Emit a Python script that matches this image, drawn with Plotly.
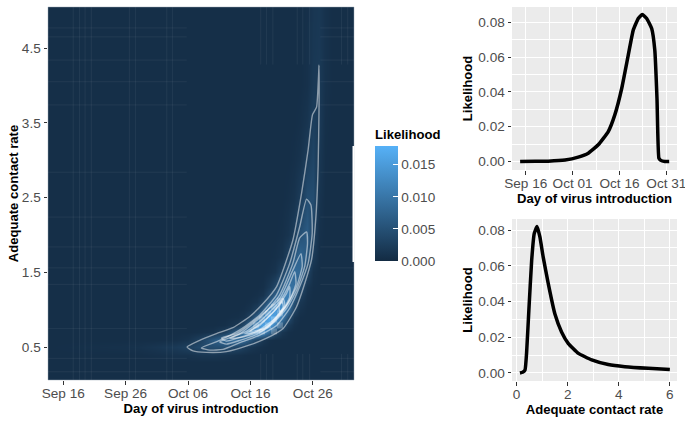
import plotly.graph_objects as go

W, H = 685, 423

# --- main panel: days are counted from Oct 06 ---
MAIN_TICK_DAYS = [-20, -10, 0, 10, 20]
MAIN_TICK_TEXT = ["Sep 16", "Sep 26", "Oct 06", "Oct 16", "Oct 26"]
RATE_TICKS = [0.5, 1.5, 2.5, 3.5, 4.5]

HEAT_X = [-23, -8, -5, -2, 0, 2, 4, 6, 8, 9, 10, 11, 12, 13, 14, 15, 16, 17, 18, 19, 20, 21, 22, 23, 27]
HEAT_Y = [0.06, 0.3, 0.4, 0.5, 0.6, 0.7, 0.8, 0.9, 1.0, 1.1, 1.2, 1.3, 1.5, 1.7, 2.0, 2.5, 3.0, 3.5, 4.0, 4.5, 5.05]
# likelihood in thousandths
HEAT_Z = [
    [.5, .5, .5, .5, .5, .5, .5, .5, .5, .5, .5, .5, .5, .5, .5, .5, .5, .5, .5, .5, .5, .5, .5, .5, .5],
    [.5, .5, .5, .5, .5, .5, .5, .5, .5, .5, .5, .5, .5, .5, .5, .5, .5, .5, .5, .5, .5, .5, .5, .5, .5],
    [.5, .5, .7, 1.0, 1.0, 1.4, 1.5, 1.2, .8, .6, .5, .5, .5, .5, .5, .5, .5, .5, .5, .5, .5, .5, .5, .5, .5],
    [.5, .9, 1.4, 2.0, 2.8, 4.0, 4.5, 4.5, 3.4, 2.4, 1.6, 1.0, .7, .5, .5, .5, .5, .5, .5, .5, .5, .5, .5, .5, .5],
    [.5, .5, .5, .7, 1.2, 3.0, 6.0, 8.5, 9.0, 8.0, 5.5, 3.2, 1.5, .7, .5, .5, .5, .5, .5, .5, .5, .5, .5, .5, .5],
    [.5, .5, .5, .5, .5, .7, 1.0, 2.5, 7.0, 10., 13., 14., 12.5, 8.5, 4.0, 1.5, .7, .5, .5, .5, .5, .5, .5, .5, .5],
    [.5, .5, .5, .5, .5, .5, .5, .7, 1.8, 4.0, 8.0, 13., 16., 15.5, 11.5, 5.5, 2.0, .8, .5, .5, .5, .5, .5, .5, .5],
    [.5, .5, .5, .5, .5, .5, .5, .5, .7, 1.2, 3.0, 7.0, 12., 17., 15.5, 10.5, 5.0, 1.5, .6, .5, .5, .5, .5, .5, .5],
    [.5, .5, .5, .5, .5, .5, .5, .5, .5, .7, 1.2, 3.0, 7.0, 12., 15., 13.5, 8.5, 3.2, 1.0, .5, .5, .5, .5, .5, .5],
    [.5, .5, .5, .5, .5, .5, .5, .5, .5, .5, .7, 1.2, 3.0, 7.0, 11., 13., 10.5, 5.0, 1.6, .7, .5, .5, .5, .5, .5],
    [.5, .5, .5, .5, .5, .5, .5, .5, .5, .5, .5, .7, 1.2, 3.5, 7.0, 10.5, 11.5, 7.5, 2.8, .9, .5, .5, .5, .5, .5],
    [.5, .5, .5, .5, .5, .5, .5, .5, .5, .5, .5, .5, .7, 1.8, 3.8, 7.0, 10., 9.0, 4.5, 1.3, .6, .5, .5, .5, .5],
    [.5, .5, .5, .5, .5, .5, .5, .5, .5, .5, .5, .5, .5, .7, 1.2, 3.2, 6.0, 9.0, 8.0, 3.5, .9, .5, .5, .5, .5],
    [.5, .5, .5, .5, .5, .5, .5, .5, .5, .5, .5, .5, .5, .5, .7, 1.2, 3.0, 6.0, 8.0, 6.0, 2.0, .6, .5, .5, .5],
    [.5, .5, .5, .5, .5, .5, .5, .5, .5, .5, .5, .5, .5, .5, .5, .7, 1.2, 2.5, 5.0, 6.5, 3.0, .8, .5, .5, .5],
    [.5, .5, .5, .5, .5, .5, .5, .5, .5, .5, .5, .5, .5, .5, .5, .5, .7, 1.1, 2.2, 4.5, 4.5, 1.2, .5, .5, .5],
    [.5, .5, .5, .5, .5, .5, .5, .5, .5, .5, .5, .5, .5, .5, .5, .5, .5, .7, 1.1, 2.5, 3.5, 1.6, .6, .5, .5],
    [.5, .5, .5, .5, .5, .5, .5, .5, .5, .5, .5, .5, .5, .5, .5, .5, .5, .5, .7, 1.3, 2.6, 2.0, .7, .5, .5],
    [.5, .5, .5, .5, .5, .5, .5, .5, .5, .5, .5, .5, .5, .5, .5, .5, .5, .5, .5, .8, 1.8, 2.0, .9, .5, .5],
    [.5, .5, .5, .5, .5, .5, .5, .5, .5, .5, .5, .5, .5, .5, .5, .5, .5, .5, .5, .8, 1.6, 1.8, 1.0, .5, .5],
    [.5, .5, .5, .5, .5, .5, .5, .5, .5, .5, .5, .5, .5, .5, .5, .5, .5, .5, .5, .7, 1.5, 1.7, 1.0, .5, .5],
]
COLOR_TICKS = [0, 5, 10, 15]
COLOR_TEXT = ["0.000", "0.005", "0.010", "0.015"]
COLOR_TOP = 17.9
PALE_X = [11.86, 13.78, 10.9, 12.82, 14.74, 11.86, 13.78, 12.82, 14.74, 13.78, 14.74]
PALE_Y = [0.71, 0.71, 0.79, 0.79, 0.79, 0.87, 0.87, 0.95, 0.95, 1.04, 1.12]

C1_X = [-0.16, 1.87, 4.55, 7.2, 9.9, 12.0, 14.2, 16.8, 18.2, 19.25, 19.95, 20.6, 21.0, 21.0, 20.85, 20.5, 19.8, 18.7, 17.4, 15.25, 12.6, 9.9, 6.15, 2.94, 0.8, -0.16]
C1_Y = [0.50, 0.59, 0.68, 0.76, 0.91, 1.08, 1.31, 1.93, 2.56, 3.14, 3.61, 3.71, 4.27, 3.72, 2.92, 2.25, 1.67, 1.35, 1.04, 0.75, 0.62, 0.53, 0.44, 0.43, 0.45, 0.50]
C2_X = [2.14, 5.08, 8.3, 11.5, 14.2, 16.3, 17.9, 19.0, 19.7, 19.9, 19.25, 17.9, 16.3, 14.2, 11.5, 8.3, 5.6, 3.5, 2.14]
C2_Y = [0.49, 0.59, 0.73, 0.93, 1.20, 1.62, 2.11, 2.48, 2.40, 2.02, 1.62, 1.31, 1.02, 0.79, 0.66, 0.56, 0.47, 0.46, 0.49]
C3_X = [5.08, 8.3, 12.0, 14.7, 16.8, 17.9, 19.0, 19.15, 18.7, 17.4, 15.8, 13.6, 11.0, 8.3, 6.15, 5.08]
C3_Y = [0.57, 0.68, 0.93, 1.20, 1.62, 1.96, 2.04, 1.89, 1.58, 1.26, 1.02, 0.82, 0.67, 0.59, 0.54, 0.57]
C4_X = [5.35, 7.75, 11.5, 14.7, 16.8, 18.1, 18.3, 17.4, 15.8, 13.6, 11.0, 8.3, 6.15, 5.35]
C4_Y = [0.62, 0.68, 0.91, 1.15, 1.53, 1.75, 1.58, 1.31, 1.06, 0.86, 0.71, 0.63, 0.58, 0.62]
C5_X = [6.7, 9.35, 12.0, 14.7, 16.3, 17.1, 17.3, 16.3, 14.7, 12.6, 9.9, 7.75, 6.7]
C5_Y = [0.62, 0.71, 0.88, 1.11, 1.35, 1.51, 1.35, 1.13, 0.93, 0.75, 0.66, 0.62, 0.62]
C6_X = [9.1, 11.5, 14.2, 15.8, 16.3, 16.3, 15.25, 13.4, 11.2, 9.1]
C6_Y = [0.68, 0.79, 1.02, 1.22, 1.31, 1.17, 1.00, 0.82, 0.71, 0.68]
C7_X = [9.9, 12.0, 14.2, 15.25, 15.5, 14.2, 12.3, 9.9]
C7_Y = [0.71, 0.84, 1.02, 1.15, 1.06, 0.91, 0.75, 0.71]
C8_X = [14.6, 15.1, 15.25, 14.7, 14.6]
C8_Y = [1.04, 1.11, 1.03, 0.97, 1.04]
CONTOURS = [(C1_X, C1_Y), (C2_X, C2_Y), (C3_X, C3_Y), (C4_X, C4_Y), (C5_X, C5_Y), (C6_X, C6_Y), (C7_X, C7_Y), (C8_X, C8_Y)]

# faint seams in the raster
SEAM_V_FULL = [-18.4, -17.4, -16.5, -15.5, -9.4, -8.4, -3.4, -2.5]
SEAM_V_PART = [11.65, 12.6, 13.6, 17.5, 18.4, 19.5, 24.6, 25.6]
SEAM_H = [4.77, 4.65, 4.34, 4.05, 3.74, 2.84, 2.24, 1.84, 1.56, 1.34, 0.75, 0.35, 0.17]

# --- top right panel ---
DAY_TICKS = [-20, -5, 10, 25]
DAY_TEXT = ["Sep 16", "Oct 01", "Oct 16", "Oct 31"]
DAY_MINOR = [-12.5, 2.5, 17.5]
DAY_X = [-21.8, -17, -12.8, -7.4, -3.2, 0.0, 3.2, 6.4, 8.5, 10.7, 12.8, 14.4, 16, 17.3, 18.7, 20.3, 21.3, 22.0, 22.6, 23.1, 24.5, 25.9]
DAY_LIK = [0, .0002, .0002, .0008, .0025, .0048, .0096, .0172, .0268, .042, .0612, .0756, .0823, .0846, .0823, .0765, .064, .036, .0019, .0008, 0, 0]

# --- bottom right panel ---
RATE_X = [.13, .235, .33, .39, .48, .59, .69, .8, .91, 1.04, 1.24, 1.5, 1.76, 2.02, 2.42, 2.94, 3.59, 4.24, 5.16, 6.0]
RATE_LIK = [0, .0004, .0017, .011, .035, .063, .078, .082, .0763, .065, .05, .033, .023, .0166, .011, .0073, .0047, .0035, .0026, .002]
RATE_AXIS_TICKS = [0, 2, 4, 6]
RATE_AXIS_MINOR = [1, 3, 5]
LIK_TICKS = [0, .02, .04, .06, .08]
LIK_TEXT = ["0.00", "0.02", "0.04", "0.06", "0.08"]
LIK_MINOR = [.01, .03, .05, .07]

FONT = "Liberation Sans, Arial, sans-serif"
TICK = dict(family=FONT, size=13.6, color="#4d4d4d")
TITLE = dict(family=FONT, size=13.1, color="black", weight="bold")

BAR_TOP, BAR_BOTTOM = 147, 261
BAR_LEFT, BAR_RIGHT = 375, 398
TITLE_ROOM = 21


def px_x(a, b):
    return [a / W, b / W]


def px_y(top, bottom):
    return [(H - bottom) / H, (H - top) / H]


fig = go.Figure()

fig.add_trace(go.Heatmap(
    x=HEAT_X, y=HEAT_Y, z=HEAT_Z, zmin=0, zmax=COLOR_TOP, zsmooth="best", xaxis="x", yaxis="y",
    hoverinfo="skip",
    colorscale=[[0, "#132B43"], [1, "#56B1F7"]],
    colorbar=dict(
        x=BAR_LEFT / W, xanchor="left", xpad=0, ypad=0, thickness=BAR_RIGHT - BAR_LEFT,
        lenmode="pixels", len=BAR_BOTTOM - BAR_TOP + TITLE_ROOM,
        y=(H - BAR_BOTTOM) / H, yanchor="bottom",
        outlinewidth=0, tickvals=COLOR_TICKS, ticktext=COLOR_TEXT,
        ticks="inside", ticklen=5, tickcolor="white", tickwidth=0.6,
        tickfont=TICK, title=dict(text="Likelihood", side="top", font=TITLE),
    ),
))
fig.add_trace(go.Scatter(
    x=PALE_X, y=PALE_Y, mode="markers", xaxis="x", yaxis="y", hoverinfo="skip", showlegend=False,
    marker=dict(symbol="square", size=6, color="rgba(255,255,255,0.22)", line_width=0),
))
for cx, cy in CONTOURS:
    fig.add_trace(go.Scatter(
        x=cx, y=cy, mode="lines", xaxis="x", yaxis="y", hoverinfo="skip", showlegend=False,
        line=dict(color="rgba(255,255,255,0.5)", width=1.4, shape="spline", smoothing=0.5),
    ))
fig.add_trace(go.Scatter(x=DAY_X, y=DAY_LIK, mode="lines", xaxis="x2", yaxis="y2", hoverinfo="skip",
                         showlegend=False, line=dict(color="black", width=3.5, shape="spline", smoothing=0.4)))
fig.add_trace(go.Scatter(x=RATE_X, y=RATE_LIK, mode="lines", xaxis="x3", yaxis="y3", hoverinfo="skip",
                         showlegend=False, line=dict(color="black", width=3.5, shape="spline", smoothing=0.4)))

SEAM = dict(color="rgba(255,255,255,0.06)", width=1)
shapes = []
for v in SEAM_V_FULL:
    shapes.append(dict(type="line", xref="x", yref="y", x0=v, x1=v, y0=0.06, y1=5.05, line=SEAM, layer="above"))
for v in SEAM_V_PART:
    shapes.append(dict(type="line", xref="x", yref="y", x0=v, x1=v, y0=4.28, y1=5.05, line=SEAM, layer="above"))
    shapes.append(dict(type="line", xref="x", yref="y", x0=v, x1=v, y0=0.06, y1=0.41, line=SEAM, layer="above"))
for h in SEAM_H:
    shapes.append(dict(type="line", xref="x", yref="y", x0=-22.44, x1=-0.2, y0=h, y1=h, line=SEAM, layer="above"))
    shapes.append(dict(type="line", xref="x", yref="y", x0=21.2, x1=26.6, y0=h, y1=h, line=SEAM, layer="above"))
# thin pale edge round the raster
shapes.append(dict(type="rect", xref="x domain", yref="y domain", x0=0, x1=1, y0=0, y1=1,
                   line=dict(color="rgba(150,165,180,0.45)", width=1), fillcolor="rgba(0,0,0,0)", layer="above"))
# white notch on the panel's right edge
shapes.append(dict(type="rect", xref="paper", yref="paper", x0=352.5 / W, x1=354.5 / W,
                   y0=(H - 262) / H, y1=(H - 146) / H, fillcolor="white", line_width=0, layer="above"))
# colour bar ticks on the left side as well
for v in COLOR_TICKS[1:]:
    py = BAR_BOTTOM - v / COLOR_TOP * (BAR_BOTTOM - BAR_TOP)
    shapes.append(dict(type="line", xref="paper", yref="paper", x0=BAR_LEFT / W, x1=(BAR_LEFT + 5) / W,
                       y0=(H - py) / H, y1=(H - py) / H, line=dict(color="white", width=0.6), layer="above"))


def axis(domain, rng, vals, text, title, standoff, minor=None, anchor=None, showgrid=True, label_shift=0):
    d = dict(domain=domain, range=rng, tickmode="array", tickvals=vals, ticktext=text,
             ticks="outside", ticklen=3.5, tickwidth=1, tickcolor="#333333", tickfont=TICK,
             ticklabeloverflow="allow", ticklabelstandoff=label_shift,
             showgrid=showgrid, gridcolor="white", gridwidth=1.1, zeroline=False, showline=False,
             title=dict(text=title, font=TITLE, standoff=standoff), anchor=anchor, automargin=False)
    if minor:
        d["minor"] = dict(tickmode="array", tickvals=minor, showgrid=True, gridcolor="white", gridwidth=0.5, ticks="")
    return d


fig.update_layout(
    width=W, height=H, autosize=False, margin=dict(l=0, r=0, t=0, b=0),
    paper_bgcolor="white", plot_bgcolor="#EBEBEB", showlegend=False, shapes=shapes,
    xaxis=axis(px_x(48, 354), [-22.44, 26.6], MAIN_TICK_DAYS, MAIN_TICK_TEXT, "Day of virus introduction", 1, anchor="y", showgrid=False, label_shift=-3),
    yaxis=axis(px_y(7, 380), [0.06, 5.05], RATE_TICKS, [f"{v:.1f}" for v in RATE_TICKS], "Adequate contact rate", 0, anchor="x", showgrid=False),
    xaxis2=axis(px_x(512, 677), [-24.4, 28.4], DAY_TICKS, DAY_TEXT, "Day of virus introduction", 0, minor=DAY_MINOR, anchor="y2", label_shift=-3),
    yaxis2=axis(px_y(7, 170), [-0.0049, 0.0889], LIK_TICKS, LIK_TEXT, "Likelihood", 2, minor=LIK_MINOR, anchor="x2"),
    xaxis3=axis(px_x(512, 677), [-0.18, 6.28], RATE_AXIS_TICKS, [str(v) for v in RATE_AXIS_TICKS], "Adequate contact rate", 1, minor=RATE_AXIS_MINOR, anchor="y3", label_shift=-3),
    yaxis3=axis(px_y(219, 381), [-0.0045, 0.0862], LIK_TICKS, LIK_TEXT, "Likelihood", 2, minor=LIK_MINOR, anchor="x3"),
)

fig.write_html("out.html", post_script="document.body.style.margin='0';", config={"displayModeBar": False})
